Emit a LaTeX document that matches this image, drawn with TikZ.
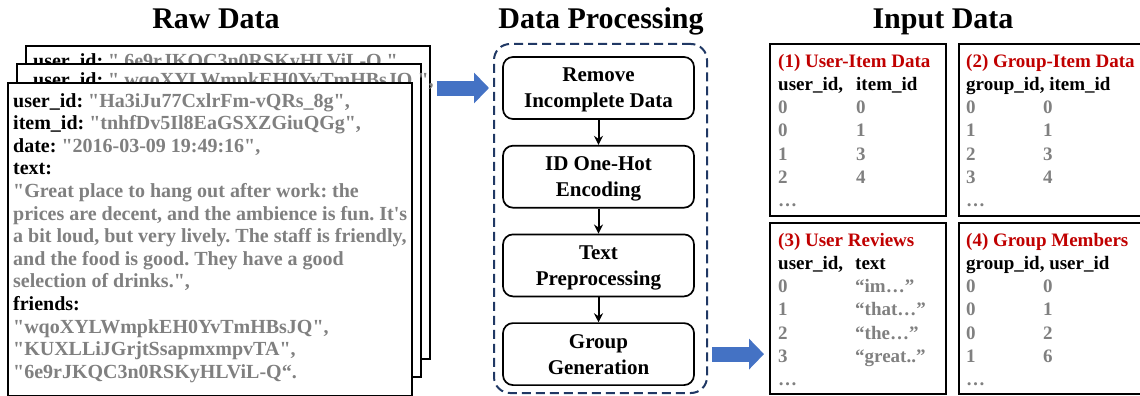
\documentclass[tikz,border=0pt]{standalone}
\usepackage{fontspec}
\setmainfont{Liberation Serif}[Ligatures=TeXOff]
\frenchspacing
\usepackage{xcolor}
\usepackage{tikz}
\usetikzlibrary{arrows.meta, positioning}

\definecolor{valgray}{HTML}{808080}
\definecolor{titlered}{HTML}{C00000}
\definecolor{framenavy}{HTML}{203864}
\definecolor{arrowblue}{HTML}{4472C4}

\begin{document}
\begin{tikzpicture}[x=1pt, y=-1pt,
  title/.style={anchor=base, inner sep=0pt, font=\bfseries\fontsize{30}{36}\selectfont},
  card/.style={draw, line width=1.7pt, fill=white, anchor=north west, inner sep=0pt, minimum width=404pt, minimum height=313pt},
  cardtext/.style={anchor=base west, inner sep=0pt, font=\bfseries\fontsize{20}{22.6}\selectfont},
  procframe/.style={draw=framenavy, line width=2pt, dash pattern=on 9pt off 5pt, rounded corners=16pt, minimum width=213pt, minimum height=349pt},
  procbox/.style={draw, line width=1.7pt, rounded corners=10pt, minimum width=191pt, minimum height=62pt, align=center, text depth=0pt, font=\bfseries\fontsize{21}{26}\selectfont},
  flow/.style={-{Stealth[length=9pt, width=9pt]}, line width=2pt},
  bigarrow/.style={arrowblue, line width=15pt, -{Triangle[length=15pt, width=30pt]}},
  inbox/.style={draw, line width=1.7pt, anchor=north west, minimum width=176pt, minimum height=172pt},
  intext/.style={anchor=base west, inner sep=0pt, text=valgray, font=\bfseries\fontsize{19}{23.3}\selectfont}
]
\useasboundingbox (0,0) rectangle (1140,396);
\clip (0,0) rectangle (1140,396);

% titles
\node[title] (rawtitle) at (216,29) {Raw Data};
\node[title] (proctitle) at (601,29) {Data Processing};
\node[title] (intitle) at (943,29) {Input Data};

% raw data cards, back to front
\node[card] (cardA) at (25,45) {};
\node[cardtext] (textA) at (33,67) {user\_id: {\color{valgray}" 6e9rJKQC3n0RSKyHLViL-Q ",}};
\node[card] (cardB) at (16,63) {};
\node[cardtext] (textB) at (33,86) {user\_id: {\color{valgray}" wqoXYLWmpkEH0YvTmHBsJQ ",}};
\node[card] (cardC) at (7,82) {};
\node[cardtext] (textC) at (13,107) {\begin{tabular}[t]{@{}l@{}}
user\_id: {\color{valgray}"Ha3iJu77CxlrFm-vQRs\_8g",}\\
item\_id: {\color{valgray}"tnhfDv5Il8EaGSXZGiuQGg",}\\
date: {\color{valgray}"2016-03-09 19:49:16",}\\
text:\\
{\color{valgray}"Great place to hang out after work: the}\\
{\color{valgray}prices are decent, and the ambience is fun. It's}\\
{\color{valgray}a bit loud, but very lively. The staff is friendly,}\\
{\color{valgray}and the food is good. They have a good}\\
{\color{valgray}selection of drinks.",}\\
friends:\\
{\color{valgray}"wqoXYLWmpkEH0YvTmHBsJQ",}\\
{\color{valgray}"KUXLLiJGrjtSsapmxmpvTA",}\\
{\color{valgray}"6e9rJKQC3n0RSKyHLViL-Q“.}
\end{tabular}};

% processing steps
\node[procframe] (procfrm) at (600.5,218.5) {};
\node[procbox] (remove) at (598.5,88) {Remove\\Incomplete Data};
\node[procbox, below=25pt of remove] (onehot) {ID One-Hot\\Encoding};
\node[procbox, below=25pt of onehot] (textprep) {Text\\Preprocessing};
\node[procbox, below=25pt of textprep] (groupgen) {Group\\Generation};
\draw[flow] (remove) -- (onehot);
\draw[flow] (onehot) -- (textprep);
\draw[flow] (textprep) -- (groupgen);

% input data tables
\node[inbox] (userItem) at (769,43) {};
\node[inbox, minimum width=190pt] (groupItem) at (958,43) {};
\node[inbox, minimum height=171pt] (userRev) at (769,222) {};
\node[inbox, minimum width=190pt, minimum height=171pt] (groupMem) at (958,222) {};

\node[intext] (userItemTab) at ([shift={(9pt,-24pt)}]userItem.north west) {\begin{tabular}[t]{@{}p{78pt}@{}l@{}}
\multicolumn{2}{@{}l@{}}{\textcolor{titlered}{(1) User-Item Data}}\\
\textcolor{black}{user\_id,} & \textcolor{black}{item\_id}\\
0 & 0\\
0 & 1\\
1 & 3\\
2 & 4\\
… &
\end{tabular}};
\node[intext] (groupItemTab) at ([shift={(8pt,-24pt)}]groupItem.north west) {\begin{tabular}[t]{@{}p{77pt}@{}l@{}}
\multicolumn{2}{@{}l@{}}{\textcolor{titlered}{(2) Group-Item Data}}\\
\multicolumn{2}{@{}l@{}}{\textcolor{black}{group\_id, item\_id}}\\
0 & 0\\
1 & 1\\
2 & 3\\
3 & 4\\
… &
\end{tabular}};
\node[intext] (userRevTab) at ([shift={(9pt,-24pt)}]userRev.north west) {\begin{tabular}[t]{@{}p{77pt}@{}l@{}}
\multicolumn{2}{@{}l@{}}{\textcolor{titlered}{(3) User Reviews}}\\
\textcolor{black}{user\_id,} & \textcolor{black}{text}\\
0 & “im…”\\
1 & “that…”\\
2 & “the…”\\
3 & “great..”\\
… &
\end{tabular}};
\node[intext] (groupMemTab) at ([shift={(8pt,-24pt)}]groupMem.north west) {\begin{tabular}[t]{@{}p{77pt}@{}l@{}}
\multicolumn{2}{@{}l@{}}{\textcolor{titlered}{(4) Group Members}}\\
\multicolumn{2}{@{}l@{}}{\textcolor{black}{group\_id, user\_id}}\\
0 & 0\\
0 & 1\\
0 & 2\\
1 & 6\\
… &
\end{tabular}};

% block arrows between stages
\path (cardA.east |- remove) ++(6,0) coordinate (rawout);
\path (procfrm.west |- remove) ++(-4,0) coordinate (procin);
\path (procfrm.east |- groupgen) ++(4,0) coordinate (procout);
\path (userRev.west |- groupgen) ++(-5,0) coordinate (inputin);
\draw[bigarrow] (rawout) -- (procin);
\draw[bigarrow] (procout) -- (inputin);
\end{tikzpicture}
\end{document}
